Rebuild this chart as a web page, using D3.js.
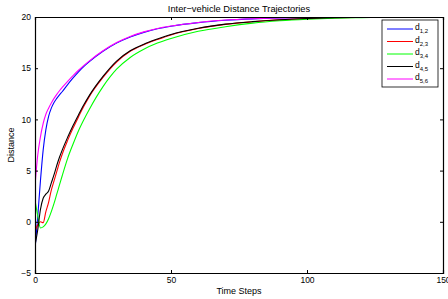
<!DOCTYPE html>
<meta charset="utf-8">
<style>
body { margin: 0; background: #fff; }
svg { font-family: "Liberation Sans", Arial, sans-serif; }
.axis path, .axis line { stroke: #000; }
.axis text { font-size: 8.5px; fill: #000; }
.curve { fill: none; stroke-width: 1.1; }
</style>
<svg width="448" height="299"></svg>
<script src="https://d3js.org/d3.v7.min.js"></script>
<script>

  // time steps
  var steps = [0, 1, 2, 3, 4, 5, 6, 7, 8, 9, 10, 12, 14, 16, 18, 20, 25, 30, 35, 40, 45, 50, 60, 70, 80, 90, 100, 110, 120, 130, 140, 150];

  var d12 = [-2.7, 0.5, 4.0, 7.0, 9.0, 10.3, 11.1, 11.65, 12.05, 12.4, 12.7, 13.4, 14.05, 14.65, 15.18, 15.64, 16.65, 17.45, 18.05, 18.5, 18.85, 19.1, 19.45, 19.68, 19.82, 19.9, 19.95, 19.98, 20, 20, 20, 20];
  var d23 = [-0.9, -0.3, 0.0, -0.1, 1.0, 1.9, 3.1, 4.0, 4.9, 5.8, 6.6, 7.95, 9.15, 10.25, 11.3, 12.25, 14.1, 15.6, 16.65, 17.3, 17.8, 18.25, 18.87, 19.28, 19.53, 19.72, 19.84, 19.92, 19.97, 19.99, 20, 20];
  var d34 = [2.1, 0.6, -0.6, -0.5, -0.2, 0.3, 1.0, 1.8, 2.7, 3.6, 4.5, 6.2, 7.6, 8.9, 10.0, 11.0, 13.2, 14.9, 16.05, 16.85, 17.45, 17.9, 18.6, 19.05, 19.4, 19.63, 19.78, 19.88, 19.94, 19.98, 20, 20];
  var d45 = [-2.3, -0.8, 1.2, 2.3, 2.7, 3.0, 3.8, 4.6, 5.5, 6.3, 7.0, 8.25, 9.4, 10.45, 11.45, 12.35, 14.2, 15.7, 16.7, 17.35, 17.85, 18.3, 18.9, 19.3, 19.55, 19.73, 19.85, 19.93, 19.97, 20, 20, 20];
  var d56 = [3.5, 6.5, 8.3, 9.6, 10.5, 11.1, 11.6, 12.05, 12.45, 12.8, 13.12, 13.72, 14.28, 14.8, 15.28, 15.72, 16.7, 17.5, 18.1, 18.55, 18.88, 19.12, 19.47, 19.7, 19.83, 19.91, 19.96, 19.98, 20, 20, 20, 20];

  var seriesNames = ["1,2", "2,3", "3,4", "4,5", "5,6"];
  var seriesValues = [d12, d23, d34, d45, d56];
  var colors = ["#0000ff", "#ff0000", "#00ff00", "#000000", "#ff00ff"];

  var xTicks = [0, 50, 100, 150];
  var yTicks = [-5, 0, 5, 10, 15, 20];

  var svg = d3.select("svg"),
      margin = {top: 17, right: 5, bottom: 26, left: 35},
      width = 443 - margin.left,
      height = 273 - margin.top;

  var x = d3.scaleLinear().domain([0, 150]).range([0, width]);
  var y = d3.scaleLinear().domain([-5, 20]).range([height, 0]);

  var g = svg.append("g")
    .attr("transform", "translate(" + margin.left + "," + margin.top + ")");

  g.append("defs").append("clipPath").attr("id", "clip")
    .append("rect").attr("width", width).attr("height", height);

  // curves
  var line = d3.line()
    .x(function(d) { return x(d[0]); })
    .y(function(d) { return y(d[1]); })
    .curve(d3.curveMonotoneX);

  seriesValues.forEach(function(vals, i) {
    g.append("path")
      .attr("class", "curve")
      .attr("clip-path", "url(#clip)")
      .attr("stroke", colors[i])
      .attr("d", line(steps.map(function(t, j) { return [t, vals[j]]; })));
  });

  // axes, ticks pointing inward on all four sides
  g.append("g")
    .attr("class", "axis")
    .attr("transform", "translate(0," + height + ")")
    .call(d3.axisBottom(x).tickValues(xTicks).tickSize(-3).tickPadding(4));

  g.append("g")
    .attr("class", "axis")
    .call(d3.axisTop(x).tickValues(xTicks).tickSize(-3).tickFormat(""));

  g.append("g")
    .attr("class", "axis")
    .call(d3.axisLeft(y).tickValues(yTicks).tickSize(-3).tickPadding(4));

  g.append("g")
    .attr("class", "axis")
    .attr("transform", "translate(" + width + ",0)")
    .call(d3.axisRight(y).tickValues(yTicks).tickSize(-3).tickFormat(""));

  g.selectAll(".axis .domain").attr("stroke-width", 1.2);

  // title and labels
  svg.append("text")
    .attr("x", margin.left + width / 2)
    .attr("y", 11.5)
    .attr("text-anchor", "middle")
    .style("font-size", "9.3px")
    .text("Inter\u2212vehicle Distance Trajectories");

  svg.append("text")
    .attr("x", margin.left + width / 2)
    .attr("y", 294)
    .attr("text-anchor", "middle")
    .style("font-size", "9px")
    .text("Time Steps");

  svg.append("text")
    .attr("transform", "translate(14," + (margin.top + height / 2) + ") rotate(-90)")
    .attr("text-anchor", "middle")
    .style("font-size", "9px")
    .text("Distance");

  // legend
  var legend = svg.append("g").attr("transform", "translate(382,20)");
  legend.append("rect")
    .attr("width", 56).attr("height", 67)
    .attr("fill", "#fff").attr("stroke", "#000").attr("stroke-width", 0.8);

  seriesNames.forEach(function(name, i) {
    var row = legend.append("g").attr("transform", "translate(0," + (9 + i * 12.5) + ")");
    row.append("line")
      .attr("x1", 5).attr("x2", 31)
      .attr("stroke", colors[i]).attr("stroke-width", 1);
    var t = row.append("text")
      .attr("x", 33).attr("y", 1)
      .style("font-size", "8.5px");
    t.append("tspan").text("d");
    t.append("tspan").attr("dy", 3).style("font-size", "6px").text(name);
  });
</script>
